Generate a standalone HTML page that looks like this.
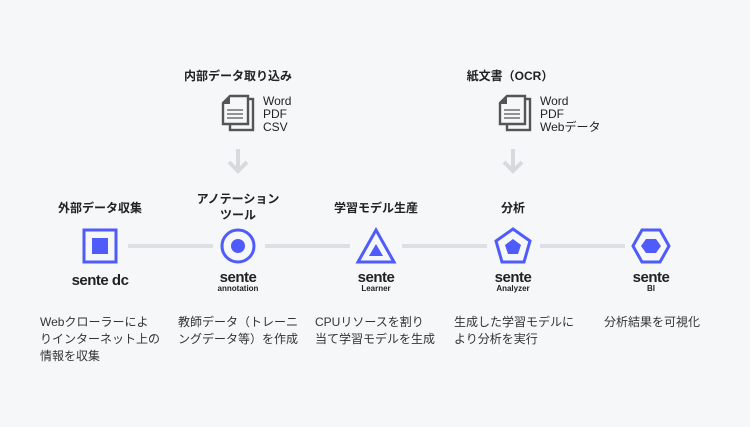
<!DOCTYPE html><html><head><meta charset="utf-8"><style>
body{margin:0;width:750px;height:427px;background:#f6f7f9;position:relative;overflow:hidden;font-family:"Liberation Sans","Noto Sans CJK JP",sans-serif;color:#222}
.a{position:absolute;white-space:nowrap}
.t{font-size:12px;font-weight:bold;text-align:center;transform:translateX(-50%);line-height:16px}
.d{font-size:12px;line-height:17px;color:#333}
.ln{position:absolute;height:4px;background:#dedfe2;top:244px}
.logo{position:absolute;transform:translateX(-50%);text-align:center;font-weight:bold;line-height:1}
.logo b{display:block;font-size:15px;letter-spacing:-0.5px}
.logo i{display:block;font-style:normal;font-size:8px;margin-top:0}
.f{font-size:12px;line-height:13px;color:#222}
</style></head><body>
<div class="a t" style="left:100px;top:200px">外部データ収集</div>
<div class="a t" style="left:238px;top:191px">アノテーション<br>ツール</div>
<div class="a t" style="left:376px;top:200px">学習モデル生産</div>
<div class="a t" style="left:513px;top:200px">分析</div>
<div class="a t" style="left:238px;top:68px">内部データ取り込み</div>
<div class="a t" style="left:510px;top:68px">紙文書（OCR）</div>

<div class="ln" style="left:128px;width:85px"></div>
<div class="ln" style="left:265px;width:85px"></div>
<div class="ln" style="left:402px;width:85px"></div>
<div class="ln" style="left:540px;width:85px"></div>

<svg class="a" style="left:0;top:0" width="750" height="427">
<g fill="none" stroke="#4f5bfa" stroke-width="3">
<rect x="84" y="230" width="32" height="32"/>
<circle cx="238" cy="246" r="16"/>
<polygon points="376,230 394,262 358,262"/>
<polygon points="513,229 530,241 524,262 502,262 496,241"/>
<polygon points="642,230 660,230 669,246 660,262 642,262 633,246"/>
</g>
<g fill="#4f5bfa">
<rect x="92" y="238" width="16" height="16"/>
<circle cx="238" cy="246" r="7"/>
<polygon points="376,244 383,256 369,256"/>
<polygon points="513,239 521,245 518,254 508,254 505,245"/>
<polygon points="646,239 656,239 661,246 656,253 646,253 641,246"/>
</g>
<g stroke="#555" stroke-width="2.4" fill="#f6f7f9">
<rect x="230" y="99" width="23" height="31"/>
<path d="M230,96 H248 V124 H223 V103 Z"/>
<rect x="507" y="99" width="23" height="31"/>
<path d="M507,96 H525 V124 H500 V103 Z"/>
</g>
<g fill="#555"><polygon points="222,104 230,95 230,104"/><polygon points="499,104 507,95 507,104"/></g>
<g stroke="#555" stroke-width="1.3"><path d="M227,110H243M227,114H243M227,118H243M504,110H520M504,114H520M504,118H520"/></g>
<g fill="none" stroke="#d8d9dc" stroke-width="4"><path d="M238,149V170M229,162L238,171L247,162M513,149V170M504,162L513,171L522,162"/></g>
</svg>
<div class="a f" style="left:263px;top:95px">Word<br>PDF<br>CSV</div>
<div class="a f" style="left:540px;top:95px">Word<br>PDF<br>Webデータ</div>

<div class="logo" style="left:100px;top:273px"><b style="font-size:15px">sente dc</b></div>
<div class="logo" style="left:238px;top:270px"><b>sente</b><i>annotation</i></div>
<div class="logo" style="left:376px;top:270px"><b>sente</b><i>Learner</i></div>
<div class="logo" style="left:513px;top:270px"><b>sente</b><i>Analyzer</i></div>
<div class="logo" style="left:651px;top:270px"><b>sente</b><i>BI</i></div>

<div class="a d" style="left:40px;top:314px">Webクローラーによ<br>りインターネット上の<br>情報を収集</div>
<div class="a d" style="left:178px;top:314px">教師データ（トレーニ<br>ングデータ等）を作成</div>
<div class="a d" style="left:315px;top:314px">CPUリソースを割り<br>当て学習モデルを生成</div>
<div class="a d" style="left:454px;top:314px">生成した学習モデルに<br>より分析を実行</div>
<div class="a d" style="left:604px;top:314px">分析結果を可視化</div>
</body></html>
